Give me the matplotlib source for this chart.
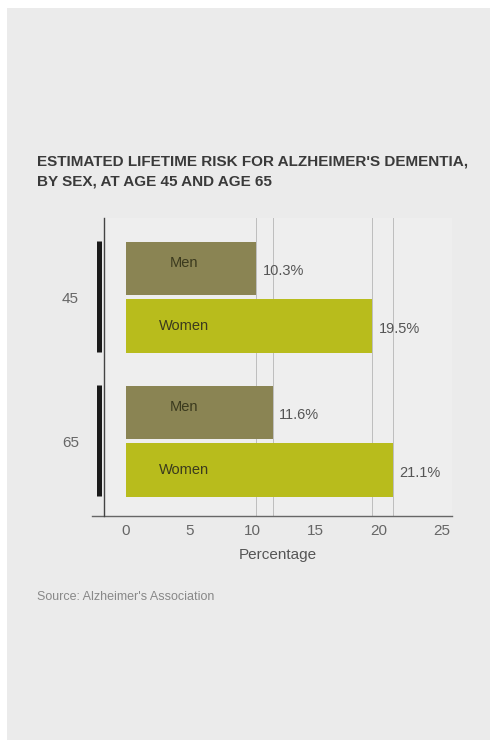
import matplotlib.pyplot as plt
from matplotlib.patches import Rectangle
import matplotlib.transforms as mtransforms

plt.rcParams['font.family'] = ['Liberation Sans', 'DejaVu Sans']

# Lifetime risk (%) by age and sex
ages = ['45', '65']
sexes = ['Men', 'Women']
men_risk = [10.3, 11.6]
women_risk = [19.5, 21.1]
x_ticks = [0, 5, 10, 15, 20, 25]

W, H = 490, 740
fig = plt.figure(figsize=(W / 100, H / 100), dpi=100)
fig.patch.set_facecolor('white')
# grey card behind everything
fig.patches.append(Rectangle((7 / W, 0), 1 - 7 / W, 1 - 8 / H, transform=fig.transFigure,
                             facecolor='#ebebeb', edgecolor='none', zorder=-10))

def px(x0, y0, x1, y1):
    return [x0 / W, 1 - y1 / H, (x1 - x0) / W, (y1 - y0) / H]

ax = fig.add_axes(px(104, 218, 452, 516))
ax.set_facecolor('#eeeeee')

men_col = '#8a8453'
women_col = '#b8bc1c'
bar_h = 0.37
off = 0.2

for i in range(len(ages)):
    ax.barh(i - off, men_risk[i], height=bar_h, color=men_col, zorder=3)
    ax.barh(i + off, women_risk[i], height=bar_h, color=women_col, zorder=3)
    ax.text(4.6, i - off - 0.04, sexes[0], ha='center', va='center', fontsize=10.5, color='#3b3a1e', zorder=4)
    ax.text(4.6, i + off, sexes[1], ha='center', va='center', fontsize=10.5, color='#3b3a1e', zorder=4)
    ax.text(men_risk[i] + 0.5, i - off + 0.02, f'{men_risk[i]}%', ha='left', va='center', fontsize=10.5, color='#555555')
    ax.text(women_risk[i] + 0.5, i + off + 0.02, f'{women_risk[i]}%', ha='left', va='center', fontsize=10.5, color='#555555')

# thin reference lines at each value
for v in men_risk + women_risk:
    ax.axvline(v, color='#bdbdbd', lw=0.7, zorder=2)

# dark brackets marking each age group
trans = mtransforms.blended_transform_factory(ax.transAxes, ax.transData)
for i in range(len(ages)):
    ax.plot([-0.014, -0.014], [i - 0.39, i + 0.38], color='#1a1a1a', lw=3.6,
            solid_capstyle='butt', transform=trans, clip_on=False)

ax.set_xlim(-1.74, 25.8)
ax.set_ylim(1.52, -0.549)
ax.set_xticks(x_ticks)
ax.set_yticks(range(len(ages)))
ax.set_yticklabels(ages)
ax.tick_params(axis='both', length=0, labelsize=11, colors='#666666')
ax.tick_params(axis='x', pad=6)
ax.tick_params(axis='y', pad=18)
for s in ['top', 'right', 'bottom']:
    ax.spines[s].set_visible(False)
ax.spines['left'].set_color('#444444')
ax.spines['left'].set_linewidth(1.0)
ax.plot([-0.035, 1.0], [0, 0], color='#666666', lw=1.0, transform=ax.transAxes, clip_on=False)
ax.set_xlabel('Percentage', fontsize=11, color='#555555', labelpad=7)

fig.text(37 / W, 1 - 161 / H, "ESTIMATED LIFETIME RISK FOR ALZHEIMER'S DEMENTIA,",
         fontsize=11, fontweight='bold', color='#3a3a3a', va='center', ha='left')
fig.text(37 / W, 1 - 182 / H, 'BY SEX, AT AGE 45 AND AGE 65',
         fontsize=11, fontweight='bold', color='#3a3a3a', va='center', ha='left')
fig.text(37 / W, 1 - 597 / H, "Source: Alzheimer's Association",
         fontsize=9, color='#888888', va='center', ha='left')

plt.savefig('out.png', dpi=100, facecolor=fig.get_facecolor())
